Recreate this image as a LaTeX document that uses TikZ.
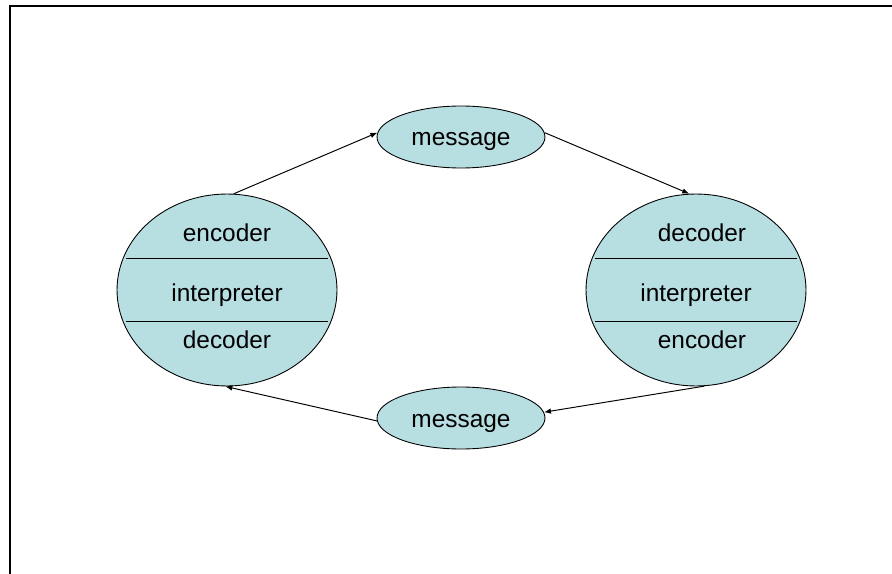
\documentclass[tikz,border=0pt]{standalone}
\usepackage{fontspec}
\setmainfont{Liberation Sans}
\usetikzlibrary{shapes.geometric,arrows.meta}

\definecolor{msgblue}{RGB}{183,222,225}

\begin{document}
\begin{tikzpicture}
            [x = 0.02cm, y = -0.02cm,
             font = \fontsize{13.9}{16}\selectfont,
             agent/.style = {ellipse, draw, fill = msgblue, line width = 0.5pt,
                             minimum width = 4.4cm, minimum height = 3.84cm, inner sep = 0pt},
             msg/.style = {ellipse, draw, fill = msgblue, line width = 0.5pt,
                           minimum width = 3.36cm, minimum height = 1.24cm, inner sep = 0pt,
                           text height = 0.36cm, text depth = 0cm},
             layer/.style = {anchor = base, inner sep = 0pt},
             flow/.style = {-{Latex[length = 1.4mm, width = 1.1mm]}, line width = 0.55pt}]
            \useasboundingbox (0,0) rectangle (892,574);
            \draw[line width = 1.2pt] (10,574) -- (10,6) -- (892,6);

            % the two parties
            \node[agent] (L) at (227,290) {};
            \node[agent] (R) at (696,290) {};
            \draw[line width = 0.5pt, shorten <= 0.06cm, shorten >= 0.06cm] (L.163) -- (L.17);
            \draw[line width = 0.5pt, shorten <= 0.06cm, shorten >= 0.06cm] (L.197) -- (L.-17);
            \draw[line width = 0.5pt, shorten <= 0.06cm, shorten >= 0.06cm] (R.163) -- (R.17);
            \draw[line width = 0.5pt, shorten <= 0.06cm, shorten >= 0.06cm] (R.197) -- (R.-17);
            \node[layer] (Lenc) at ([yshift = 0.97cm]L.center) {encoder};
            \node[layer] (Lint) at ([yshift = -0.23cm]L.center) {interpreter};
            \node[layer] (Ldec) at ([yshift = -1.17cm]L.center) {decoder};
            \node[layer] (Rdec) at ([xshift = 0.12cm, yshift = 0.97cm]R.center) {decoder};
            \node[layer] (Rint) at ([yshift = -0.23cm]R.center) {interpreter};
            \node[layer] (Renc) at ([xshift = 0.12cm, yshift = -1.17cm]R.center) {encoder};

            % messages passed between them
            \node[msg] (top) at (461,137) {message};
            \node[msg] (bot) at (461,418) {message};
            \draw[flow] (L.86) -- (top.177);
            \draw[flow] (top.3) -- (R.94);
            \draw[flow] (R.-85) -- (bot.4);
            \draw[flow] (bot.182) -- (L.-91);
        \end{tikzpicture}
\end{document}
